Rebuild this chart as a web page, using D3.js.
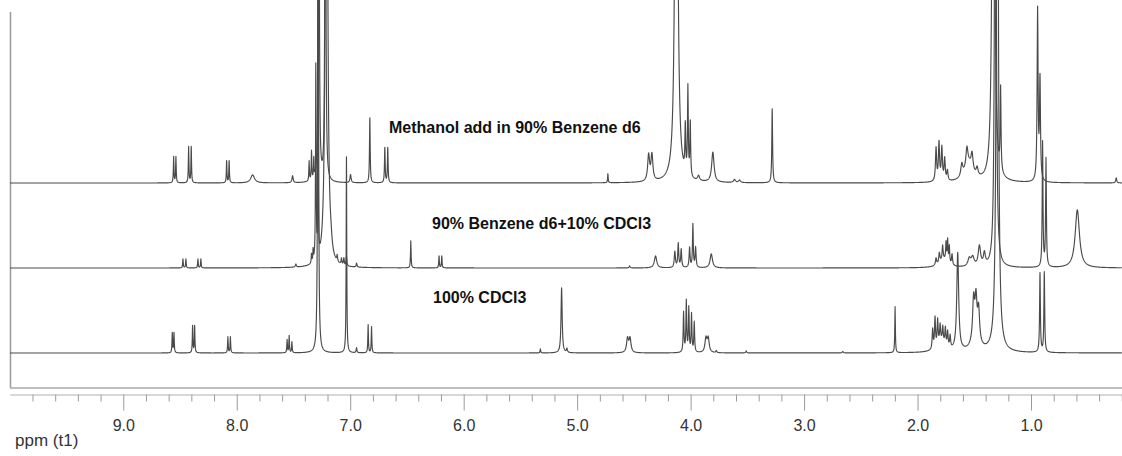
<!DOCTYPE html>
<html><head><meta charset="utf-8">
<script src="https://cdn.jsdelivr.net/npm/d3@7/dist/d3.min.js"></script>
<style>body{margin:0;background:#fff;overflow:hidden}svg{display:block}</style>
</head><body>
<svg id="chart" width="1122" height="456"></svg>
<script>
// ---------- data ----------
const ppmDomain = [10.0, 0.2];
const majorTicks = [9, 8, 7, 6, 5, 4, 3, 2, 1];
const tickLabels = ["9.0", "8.0", "7.0", "6.0", "5.0", "4.0", "3.0", "2.0", "1.0"];
const axisTitle = "ppm (t1)";
const traceNames = ["Methanol add in 90% Benzene d6", "90% Benzene d6+10% CDCl3", "100% CDCl3"];
const traceOffsets = [170, 85, 0];

// peaks: [shift (ppm), height (rel. intensity), line width FWHM (ppm)]
const methanolPeaks = [
  [8.556,26,.006],[8.536,26,.006],
  [8.424,36,.006],[8.401,36,.006],
  [8.089,22,.006],[8.067,22,.006],
  [7.860,8,.04],
  [7.508,7,.012],
  [7.362,20,.006],[7.341,29,.006],[7.321,20,.006],
  [7.277,600,.008],[7.219,600,.008],
  [6.997,8,.012],
  [6.827,65,.007],
  [6.695,35,.007],[6.669,35,.007],
  [4.729,9,.006],
  [4.370,26,.02],[4.341,26,.02],
  [4.126,700,.022],
  [4.047,46,.008],[4.024,88,.008],[4.003,54,.008],
  [3.930,5,.02],
  [3.804,30,.025],
  [3.613,3,.02],[3.569,2.5,.02],
  [3.281,74,.008],
  [1.837,33,.012],[1.811,38,.012],[1.786,33,.012],[1.761,22,.012],[1.737,10,.012],
  [1.550,18,.09],[1.610,12,.02],[1.565,18,.02],[1.520,16,.02],[1.475,8,.02],
  [1.332,800,.018],
  [1.268,82,.008],
  [0.942,171,.01],[0.921,100,.01],
  [0.249,5,.01]
];
const mixPeaks = [
  [8.474,9,.006],[8.448,9,.006],[8.342,9,.006],[8.316,9,.006],
  [7.479,3,.01],
  [7.341,9,.006],[7.327,12,.006],
  [7.303,195,.006],[7.283,120,.006],
  [7.209,800,.018],[7.170,8,.02],
  [7.115,6,.008],[7.077,6,.008],[7.056,7,.008],[7.033,9,.008],
  [6.944,4,.008],
  [6.466,27,.006],
  [6.217,12,.006],[6.193,12,.006],
  [4.538,2,.01],
  [4.309,12,.025],
  [4.139,16,.012],[4.109,24,.01],[4.083,18,.01],
  [4.009,20,.01],[3.980,43,.008],[3.956,20,.01],
  [3.818,14,.025],
  [1.770,8,.09],
  [1.837,7,.012],[1.808,10,.012],[1.779,14,.01],[1.749,18,.008],[1.735,22,.008],[1.720,17,.008],[1.696,11,.01],
  [1.544,8,.03],[1.514,9,.03],[1.455,20,.025],[1.411,12,.02],
  [1.314,900,.012],
  [0.898,125,.008],[0.868,108,.008],
  [0.592,58,.045]
];
const cdcl3Peaks = [
  [8.568,20,.006],[8.553,20,.006],
  [8.389,27,.006],[8.371,27,.006],
  [8.078,16,.006],[8.056,16,.006],
  [7.556,13,.006],[7.538,17,.006],[7.514,11,.006],
  [7.283,700,.007],
  [7.033,196,.006],
  [6.944,5,.008],
  [6.842,28,.006],[6.812,26,.006],
  [5.324,4,.006],
  [5.137,65,.012],[5.090,4,.01],
  [4.556,14,.02],[4.534,14,.02],
  [4.062,40,.008],[4.038,51,.008],[4.016,44,.008],[3.992,38,.008],[3.968,30,.008],
  [3.865,14,.02],[3.845,14,.02],
  [3.774,2,.01],[3.510,2,.01],[2.659,1.5,.01],
  [2.198,46,.006],
  [1.790,10,.09],
  [1.867,20,.01],[1.846,30,.01],[1.823,25,.01],[1.801,17,.01],[1.778,15,.01],[1.755,17,.01],[1.735,15,.01],[1.713,12,.01],
  [1.646,98,.02],
  [1.490,12,.08],
  [1.506,40,.02],[1.485,38,.02],[1.462,32,.02],
  [1.297,900,.016],
  [0.921,79,.008],[0.883,80,.008]
];
const traces = [methanolPeaks, mixPeaks, cdcl3Peaks];

// ---------- drawing ----------
const svg = d3.select("#chart");
const W = 1122, H = 456;
const plotBottom = 388, axisY = 394.5;

const x = d3.scaleLinear().domain(ppmDomain).range([9.8, 1121.8]);
const y = d3.scaleLinear().domain([0, 353]).range([353, 0]);

svg.append("defs").append("clipPath").attr("id", "plotclip")
  .append("rect").attr("x", 10).attr("y", 0).attr("width", W - 10).attr("height", plotBottom - 1);

// frame
svg.append("line").attr("x1", 10.5).attr("x2", 10.5).attr("y1", 12).attr("y2", plotBottom)
  .attr("stroke", "#9a9a9a").attr("stroke-width", 1.5);
svg.append("line").attr("x1", 10).attr("x2", W).attr("y1", plotBottom).attr("y2", plotBottom)
  .attr("stroke", "#a8a8a8").attr("stroke-width", 1.5);

function spectrum(peaks) {
  const grid = d3.range(ppmDomain[0], ppmDomain[1] - 1e-9, -0.002).concat(peaks.map(p => p[0]));
  grid.sort((a, b) => b - a);
  return grid.map(v => [v, d3.sum(peaks, ([c, h, w]) => {
    const g = w / 2; return h * g * g / (g * g + (v - c) * (v - c));
  })]);
}

const gTraces = svg.append("g").attr("clip-path", "url(#plotclip)");
traces.forEach((peaks, i) => {
  const off = traceOffsets[i];
  const line = d3.line().x(d => x(d[0])).y(d => y(off + d[1]));
  gTraces.append("path").datum(spectrum(peaks))
    .attr("d", line).attr("fill", "none")
    .attr("stroke", "#4a4a4a").attr("stroke-width", 1.15).attr("stroke-linejoin", "round");
});

// axis
const minorTicks = d3.range(10.0, 0.19, -0.2).map(v => +v.toFixed(1)).filter(v => Math.abs(v - Math.round(v)) > 1e-6);
const gMinor = svg.append("g").attr("transform", `translate(0,${axisY})`)
  .call(d3.axisBottom(x).tickValues(minorTicks).tickSize(7).tickSizeOuter(0).tickFormat(""));
const gMajor = svg.append("g").attr("transform", `translate(0,${axisY})`)
  .call(d3.axisBottom(x).tickValues(majorTicks).tickSize(16).tickSizeOuter(0).tickPadding(9.5)
    .tickFormat((d, i) => tickLabels[i]));
[gMinor, gMajor].forEach(g => {
  g.select(".domain").attr("stroke", "#b0b0b0").attr("stroke-width", 1);
  g.selectAll(".tick line").attr("stroke", "#9a9a9a");
});
gMinor.select(".domain").remove();
gMajor.selectAll(".tick text")
  .attr("font-family", "'Liberation Sans', Arial, sans-serif").attr("font-size", 16).attr("fill", "#333");

svg.append("text").attr("x", 15).attr("y", 446).text(axisTitle)
  .attr("font-family", "'Liberation Sans', Arial, sans-serif").attr("font-size", 17).attr("fill", "#333");

// trace labels
const labelPos = [[389, 133], [432, 229], [433, 303]];
traceNames.forEach((t, i) => {
  svg.append("text").attr("x", labelPos[i][0]).attr("y", labelPos[i][1]).text(t)
    .attr("font-family", "'Liberation Sans', Arial, sans-serif").attr("font-weight", "bold")
    .attr("font-size", 16).attr("fill", "#111");
});
</script>
</body></html>
